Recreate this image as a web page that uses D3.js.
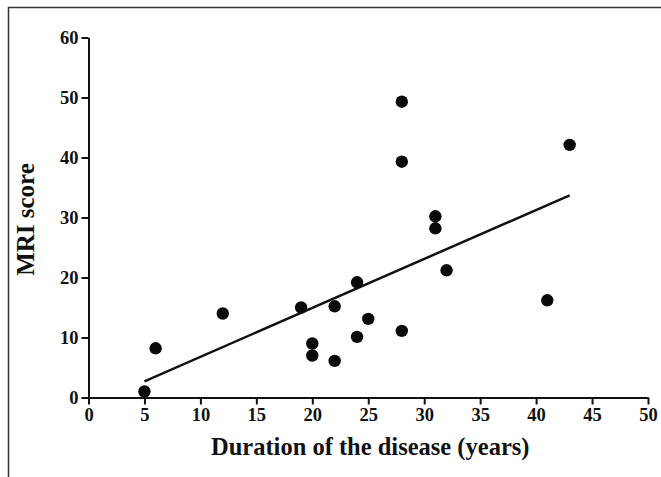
<!DOCTYPE html>
<html lang="en">

<head>
    <meta charset="utf-8">
    <title>MRI score vs duration</title>
    <script type="text/javascript" src="https://d3js.org/d3.v7.min.js"></script>
    <style type="text/css">
        body {
            margin: 0;
            background: #ffffff;
        }

        svg text {
            font-family: "Liberation Serif", "Times New Roman", serif;
            font-weight: bold;
            fill: #111;
        }
    </style>
</head>

<body>
    <svg width="661" height="477"></svg>
    <script type="text/javascript">
        //Data
        const duration = [5, 6, 12, 19, 20, 20, 22, 22, 24, 24, 25, 28, 28, 28, 31, 31, 32, 41, 43];
        const mriScore = [1, 8.2, 14, 15, 9, 7, 15.2, 6.1, 19.2, 10.1, 13.1, 49.3, 39.3, 11.1, 30.2, 28.2, 21.2, 16.2, 42.1];

        //Fitted line end points (as drawn)
        const fitX = [5, 43];
        const fitY = [2.7, 33.7];

        const xTicks = [0, 5, 10, 15, 20, 25, 30, 35, 40, 45, 50];
        const yTicks = [0, 10, 20, 30, 40, 50, 60];

        const svg = d3.select("svg");
        const w = 661;
        const h = 477;

        //Outer frame (only left and top edges visible in the original crop)
        svg.append("path")
            .attr("d", "M8.5," + h + "V7.5H" + w)
            .attr("fill", "none")
            .attr("stroke", "#333")
            .attr("stroke-width", 1.5);

        const xScale = d3.scaleLinear()
            .domain([0, 50])
            .range([88.5, 648]);

        const yScale = d3.scaleLinear()
            .domain([0, 60])
            .range([397.5, 37.5]);

        //Axes
        const bottomAxis = d3.axisBottom(xScale)
            .tickValues(xTicks)
            .tickSize(7)
            .tickPadding(3)
            .tickSizeOuter(0);

        const leftAxis = d3.axisLeft(yScale)
            .tickValues(yTicks)
            .tickSize(7)
            .tickPadding(3)
            .tickSizeOuter(0);

        svg.append("g")
            .attr("transform", "translate(0," + yScale(0) + ")")
            .call(bottomAxis)
            .call(g => g.selectAll("line, path").attr("stroke", "#111").attr("stroke-width", 2))
            .call(g => g.selectAll("text").style("font-size", "18.5px").attr("fill", "#111")
                .attr("font-family", null));

        svg.append("g")
            .attr("transform", "translate(" + xScale(0) + ",0)")
            .call(leftAxis)
            .call(g => g.selectAll("line, path").attr("stroke", "#111").attr("stroke-width", 2))
            .call(g => g.selectAll("text").style("font-size", "18.5px").attr("fill", "#111")
                .attr("font-family", null));

        //Axis titles
        svg.append("text")
            .attr("x", (xScale(0) + xScale(50)) / 2 + 2)
            .attr("y", 455)
            .attr("text-anchor", "middle")
            .style("font-size", "24.5px")
            .text("Duration of the disease (years)");

        svg.append("text")
            .attr("transform", "translate(34," + (yScale(30) + 2) + ") rotate(-90)")
            .attr("text-anchor", "middle")
            .style("font-size", "25px")
            .text("MRI score");

        //Regression line
        const line = d3.line()
            .x(d => xScale(d[0]))
            .y(d => yScale(d[1]));

        svg.append("path")
            .datum(d3.zip(fitX, fitY))
            .attr("d", line)
            .attr("fill", "none")
            .attr("stroke", "#111")
            .attr("stroke-width", 2.5);

        //Points
        svg.selectAll("circle")
            .data(d3.zip(duration, mriScore))
            .enter()
            .append("circle")
            .attr("cx", d => xScale(d[0]))
            .attr("cy", d => yScale(d[1]))
            .attr("r", 6.2)
            .attr("fill", "#0a0a0a");
    </script>
</body>

</html>
